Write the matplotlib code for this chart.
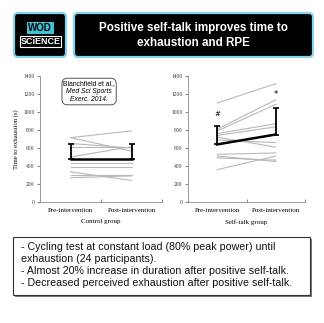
import matplotlib
matplotlib.use("Agg")
import matplotlib.pyplot as plt
from matplotlib.patches import FancyBboxPatch, Rectangle

# control group, time to exhaustion (s)
ctrl_pre = [715, 715, 650, 610, 500, 430, 385, 335, 300, 270]
ctrl_post = [790, 565, 600, 610, 615, 430, 385, 240, 300, 290]
ctrl_mean = [480, 480]
ctrl_sd = [165, 165]

# self-talk group
st_pre = [1100, 810, 790, 760, 740, 720, 690, 530, 510, 490, 360]
st_post = [1315, 1135, 1085, 870, 835, 610, 660, 545, 450, 465, 510]
st_mean = [640, 750]
st_sd = [210, 295]

categories = ["Pre-intervention", "Post-intervention"]
yticks = [0, 200, 400, 600, 800, 1000, 1200, 1400]
bullets = [
    "- Cycling test at constant load (80% peak power) until",
    "exhaustion (24 participants).",
    "- Almost 20% increase in duration after positive self-talk.",
    "- Decreased perceived exhaustion after positive self-talk.",
]

W, H = 324, 323
fig = plt.figure(figsize=(W / 100, H / 100), dpi=100)

# background layer in pixel coordinates
bg = fig.add_axes([0, 0, 1, 1], zorder=0)
bg.set_xlim(0, W)
bg.set_ylim(H, 0)
bg.axis("off")

blue = "#86d4ee"
bg.add_patch(FancyBboxPatch((14, 13), 52, 44, boxstyle="round,pad=0,rounding_size=4",
                            fc="black", ec=blue, lw=1.6))
bg.add_patch(Rectangle((26.5, 21.5), 27, 12, fc="#3cc3d6", ec="none"))
bg.text(40, 27.8, "WOD", color="black", fontsize=7, fontweight="bold",
        ha="center", va="center", family="Liberation Sans")
bg.add_patch(Rectangle((20, 36), 41, 11, fc="black", ec="white", lw=0.8))
bg.text(40.5, 41.8, "SCiENCE", color="white", fontsize=6.5, fontweight="bold",
        ha="center", va="center", family="Liberation Sans")

bg.add_patch(FancyBboxPatch((74, 13), 239, 44, boxstyle="round,pad=0,rounding_size=4",
                            fc="black", ec=blue, lw=1.6))
bg.text(193, 35.5, "Positive self-talk improves time to\nexhaustion and RPE",
        color="white", fontsize=8.4, fontweight="bold", ha="center", va="center",
        family="Liberation Sans", linespacing=1.35)

# bottom text box
bg.add_patch(Rectangle((14.5, 238.5), 297, 58, fc="#777777", ec="none"))
bg.add_patch(Rectangle((13, 237), 297, 58, fc="white", ec="#333333", lw=0.8))
for i, line in enumerate(bullets):
    bg.text(21, 247.5 + i * 12, line, fontsize=7.7, ha="left", va="center",
            family="Liberation Sans", color="#111111")


def panel(rect, pre, post, mean, sd, xlabel, ylabel=None):
    ax = fig.add_axes(rect, zorder=2)
    ax.patch.set_alpha(0)
    for a, b in zip(pre, post):
        ax.plot([0.5, 1.5], [a, b], color="#b8b8b8", lw=0.8, zorder=1)
    ax.plot([0.5, 1.5], mean, color="black", lw=1.8, zorder=3)
    ax.errorbar([0.5, 1.5], mean, yerr=[[0, 0], sd], fmt="none", ecolor="black",
                elinewidth=1.3, capsize=2, capthick=1.2, zorder=3)
    ax.set_xlim(0, 2)
    ax.set_ylim(0, 1400)
    ax.set_yticks(yticks)
    ax.set_yticklabels([str(v) for v in yticks], fontsize=4, family="Liberation Serif",
                       color="#333333")
    ax.set_xticks([0, 1, 2])
    ax.set_xticklabels([])
    ax.set_xticks([0.5, 1.5], minor=True)
    ax.set_xticklabels(categories, minor=True, fontsize=5, family="Liberation Serif")
    ax.tick_params(axis="x", which="minor", length=0, pad=4)
    ax.tick_params(axis="x", which="major", length=2, color="#888888", direction="in")
    ax.tick_params(axis="y", length=2, color="#888888", pad=2)
    for s in ["top", "right"]:
        ax.spines[s].set_visible(False)
    for s in ["left", "bottom"]:
        ax.spines[s].set_color("#999999")
        ax.spines[s].set_linewidth(0.7)
    ax.set_xlabel(xlabel, fontsize=5, family="Liberation Serif", labelpad=5)
    if ylabel:
        ax.set_ylabel(ylabel, fontsize=4.8, family="Liberation Serif", labelpad=3)
    return ax


ax1 = panel([40 / W, 1 - 202 / H, 122 / W, 126 / H], ctrl_pre, ctrl_post,
            ctrl_mean, ctrl_sd, "Control group", "Time to exhaustion (s)")
# citation box
ax1.add_patch(FancyBboxPatch((0.36, 1080), 0.89, 295,
                             boxstyle="round,pad=0,rounding_size=0.09",
                             mutation_aspect=700, fc="white", ec="#555555", lw=0.7,
                             zorder=4))
for txt, yy, st in [("Blanchfield et al.,", 1318, "normal"),
                    ("Med Sci Sports", 1228, "italic"),
                    ("Exerc. 2014.", 1138, "italic")]:
    ax1.text(0.805, yy, txt, fontsize=4.9, style=st, ha="center", va="center",
             family="Liberation Sans", zorder=5)

ax2 = panel([188 / W, 1 - 202 / H, 117 / W, 126 / H], st_pre, st_post,
            st_mean, st_sd, "Self-talk group")
ax2.text(0.5, st_mean[0] + st_sd[0] + 130, "#", fontsize=5, ha="center", va="center")
ax2.text(1.5, st_mean[1] + st_sd[1] + 150, "*", fontsize=6, ha="center", va="center")

fig.savefig("out.png", dpi=100)
